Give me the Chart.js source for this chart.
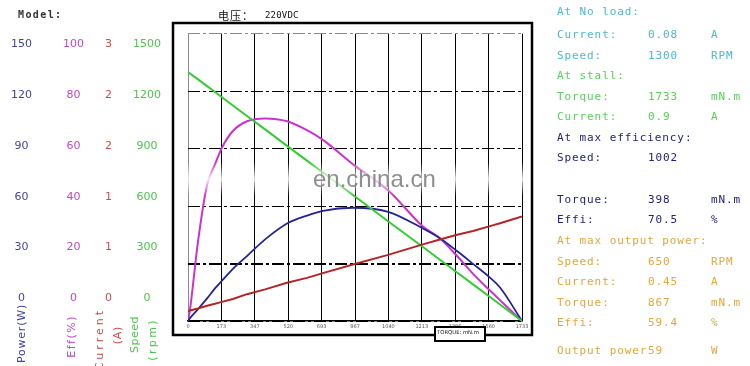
<!DOCTYPE html>
<html><head><meta charset="utf-8">
<script src="https://cdn.jsdelivr.net/npm/chart.js@4"></script>
<style>
html,body{margin:0;padding:0;background:#fff;}
#wrap{position:relative;width:750px;height:366px;overflow:hidden;background:#fff;}
canvas{position:absolute;left:0;top:0;}
.t{position:absolute;font-family:"DejaVu Sans Mono",monospace;font-size:11px;letter-spacing:0.9px;white-space:pre;line-height:12px;}
</style></head><body>
<div id="wrap"><canvas id="c" width="750" height="366"></canvas></div>
<script>
// ---------------- DATA ----------------
const torque  = [0, 10, 52, 99, 140, 176, 233, 306, 400, 514, 617, 700, 856, 1038, 1219, 1307, 1396, 1479, 1567, 1619, 1733];
const power   = [0, 1.5, 6.2, 11.8, 17, 21, 27.2, 33.9, 42.6, 50.9, 55, 57.5, 59.1, 57, 48.3, 43.2, 36.5, 29.8, 22.6, 17.5, 0];
const effi    = [0, 3.8, 27.7, 47.3, 54.5, 60.3, 66.1, 69.5, 70.5, 69.5, 66.4, 63.0, 54.5, 45.5, 32.9, 28.8, 22.6, 16.4, 10.6, 7.2, 0];
const current = [0.10, 0.11, 0.13, 0.16, 0.18, 0.20, 0.23, 0.28, 0.33, 0.40, 0.45, 0.50, 0.59, 0.69, 0.80, 0.85, 0.90, 0.94, 0.99, 1.02, 1.09];
const speed   = [1300, 1292, 1261, 1226, 1195, 1168, 1125, 1070, 1000, 914, 837, 775, 658, 521, 386, 320, 253, 191, 125, 86, 0];

const torqueTicks = [0, 173, 347, 520, 693, 867, 1040, 1213, 1386, 1560, 1733];
const powerTicks  = [150, 120, 90, 60, 30, 0];
const effTicks    = [100, 80, 60, 40, 20, 0];
const curTicks    = [3, 2.4, 1.8, 1.2, 0.6, 0];
const curTickText = ['3', '2', '2', '1', '1', '0'];
const speedTicks  = [1500, 1200, 900, 600, 300, 0];

const panelRows = [
  ['At No load:', '', '', 'c'],
  ['Current:', '0.08', 'A', 'c'],
  ['Speed:', '1300', 'RPM', 'c'],
  ['At stall:', '', '', 'g'],
  ['Torque:', '1733', 'mN.m', 'g'],
  ['Current:', '0.9', 'A', 'g'],
  ['At max efficiency:', '', '', 'n'],
  ['Speed:', '1002', '', 'n'],
  ['Torque:', '398', 'mN.m', 'n'],
  ['Effi:', '70.5', '%', 'n'],
  ['At max output power:', '', '', 'o'],
  ['Speed:', '650', 'RPM', 'o'],
  ['Current:', '0.45', 'A', 'o'],
  ['Torque:', '867', 'mN.m', 'o'],
  ['Effi:', '59.4', '%', 'o'],
  ['Output power', '59', 'W', 'o']
];

// ---------------- STYLE / LAYOUT ----------------
const C_POW = '#23239a', C_EFF = '#cc33cc', C_CUR = '#b52525', C_SPD = '#33cc33';
const L_POW = '#4444a0', L_EFF = '#c048c0', L_CUR = '#cc4c4c', L_SPD = '#4cc44c';
const panelColors = {c:'#4bb9cc', g:'#55d255', n:'#22227a', o:'#e3a63a'};
const panelY = [12, 35, 56, 76, 97, 117, 138, 158, 200, 220, 241, 262, 282, 303, 323, 351];

const wrap = document.getElementById('wrap');
function addText(txt, x, yc, color, extra) {
  const d = document.createElement('div');
  d.className = 't';
  d.textContent = txt;
  d.style.left = x + 'px';
  d.style.top = (yc - 6) + 'px';
  d.style.color = color;
  if (extra) Object.assign(d.style, extra);
  wrap.appendChild(d);
}
panelRows.forEach((r, i) => {
  const col = panelColors[r[3]];
  addText(r[0], 557, panelY[i], col);
  if (r[1]) addText(r[1], 648, panelY[i], col);
  if (r[2]) addText(r[2], 711, panelY[i], col);
});
addText('Model:', 18, 15, '#333', {fontWeight:'bold', fontSize:'10px', letterSpacing:'1.4px'});
addText('电压：', 218, 15, '#111', {fontFamily:'"Noto Sans CJK SC"', fontSize:'11px', letterSpacing:'1px', top:'8px', lineHeight:'14px'});
addText('220VDC', 265, 15, '#111', {fontSize:'9px', letterSpacing:'0.2px'});

const LT = 11 / 258, LB = 23 / 258;   // label-column offsets vs plot area
const tickFont = {family: 'DejaVu Sans', size: 11};

function labelAxis(vals, texts, color, weight, width, pad) {
  const top = vals[0];
  return {
    type: 'linear', position: 'left', weight: weight,
    min: -top * LB, max: top * (1 + LT),
    afterBuildTicks: ax => { ax.ticks = vals.map(v => ({value: v})); },
    afterFit: ax => { ax.width = width; },
    grid: {display: false, drawTicks: false},
    border: {display: false},
    ticks: {color: color, crossAlign: 'center', padding: pad, autoSkip: false, font: tickFont,
            callback: (v, i) => texts[i]}
  };
}

const mk = (arr) => torque.map((t, i) => ({x: t, y: arr[i]}));

const decor = {
  id: 'decor',
  afterDatasetsDraw(chart) {
    const ctx = chart.ctx;
    // watermark band
    ctx.save();
    const g = ctx.createLinearGradient(0, 162, 0, 196);
    g.addColorStop(0, 'rgba(255,255,255,0)');
    g.addColorStop(0.5, 'rgba(255,255,255,0.85)');
    g.addColorStop(1, 'rgba(255,255,255,0)');
    ctx.fillStyle = g;
    ctx.fillRect(170, 162, 380, 34);
    ctx.fillStyle = 'rgba(130,130,130,0.9)';
    ctx.font = '24px "Liberation Sans", Arial, sans-serif';
    ctx.textBaseline = 'alphabetic';
    ctx.fillText('en.china.cn', 313, 187);
    ctx.restore();
  },
  afterDraw(chart) {
    const ctx = chart.ctx;
    ctx.save();
    // outer frame
    ctx.strokeStyle = '#000';
    ctx.lineWidth = 2.5;
    ctx.strokeRect(173, 23, 359, 312);
    // torque unit box
    ctx.fillStyle = '#fff';
    ctx.fillRect(434, 326, 52, 16);
    ctx.lineWidth = 2;
    ctx.strokeRect(435, 327, 50, 14);
    ctx.fillStyle = '#111';
    ctx.font = '5.3px "DejaVu Sans"';
    ctx.textBaseline = 'middle';
    ctx.fillText('TORQUE: mN.m', 437, 333);
    // rotated axis names
    const rot = [
      ['Power(W)', 22, 304, L_POW, 0.8],
      ['Eff(%)', 72, 315, L_EFF, 1.5],
      ['Current', 100, 308, L_CUR, 3],
      ['(A)', 118, 326, L_CUR, 0.7],
      ['Speed', 135, 316, L_SPD, 0.5],
      ['(rpm)', 153, 318, L_SPD, 2.4]
    ];
    ctx.font = '11px "DejaVu Sans"';
    rot.forEach(([t, x, y, c, ls]) => {
      ctx.save();
      ctx.translate(x, y);
      ctx.rotate(-Math.PI / 2);
      ctx.letterSpacing = ls + 'px';
      ctx.fillStyle = c;
      ctx.textAlign = 'right';
      ctx.textBaseline = 'middle';
      ctx.fillText(t, 0, 0);
      ctx.restore();
    });
    ctx.restore();
  }
};

new Chart(document.getElementById('c'), {
  type: 'line',
  data: {
    datasets: [
      {label: 'Current', data: mk(current), yAxisID: 'yCur', borderColor: C_CUR, borderWidth: 2, pointRadius: 0, tension: 0},
      {label: 'Speed', data: mk(speed), yAxisID: 'ySpd', borderColor: C_SPD, borderWidth: 2, pointRadius: 0, tension: 0},
      {label: 'Power', data: mk(power), yAxisID: 'yPow', borderColor: C_POW, borderWidth: 1.8, pointRadius: 0, cubicInterpolationMode: 'monotone'},
      {label: 'Eff', data: mk(effi), yAxisID: 'yEff', borderColor: C_EFF, borderWidth: 2, pointRadius: 0, cubicInterpolationMode: 'monotone'}
    ]
  },
  options: {
    responsive: false,
    animation: false,
    layout: {padding: {left: 0, top: 29, right: 228, bottom: 0}},
    plugins: {legend: {display: false}, tooltip: {enabled: false}},
    scales: {
      x: {
        type: 'linear', min: 0, max: 1733,
        afterBuildTicks: ax => { ax.ticks = torqueTicks.map(v => ({value: v})); },
        afterFit: ax => { ax.height = 45; },
        grid: {color: c => c.index === 0 ? '#8a8a8a' : '#000', lineWidth: 1, drawTicks: false},
        border: {display: true, color: '#000', width: 1.5},
        ticks: {color: '#555', padding: 3, autoSkip: false, maxRotation: 0, font: {family: 'DejaVu Sans', size: 5},
                callback: v => String(v)}
      },
      ySpd: {
        type: 'linear', position: 'right', min: 0, max: 1500,
        afterBuildTicks: ax => { ax.ticks = speedTicks.map(v => ({value: v})); },
        afterFit: ax => { ax.width = 0; },
        ticks: {display: false},
        grid: {drawTicks: false, color: c => c.tick.value === 1500 ? '#8a8a8a' : '#000',
               lineWidth: c => c.tick.value === 300 ? 2 : 1},
        border: {display: false, dash: [12, 3, 3, 3]}
      },
      yPow: {type: 'linear', display: false, min: 0, max: 150},
      yEff: {type: 'linear', display: false, min: 0, max: 100},
      yCur: {type: 'linear', display: false, min: 0, max: 3},
      lPow: labelAxis(powerTicks, powerTicks.map(String), L_POW, 4, 32, 0),
      lEff: labelAxis(effTicks, effTicks.map(String), L_EFF, 3, 52, 0),
      lCur: labelAxis(curTicks, curTickText, L_CUR, 2, 28, 0),
      lSpd: labelAxis(speedTicks, speedTicks.map(String), L_SPD, 1, 76, 27)
    }
  },
  plugins: [decor]
});
</script>
</body></html>
